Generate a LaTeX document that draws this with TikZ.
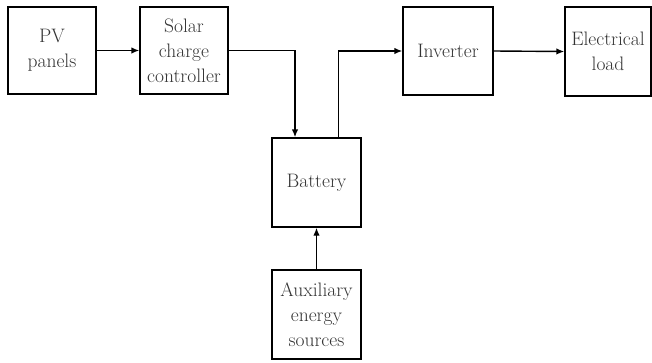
\documentclass[tikz,border=0pt]{standalone}
\usetikzlibrary{arrows.meta}
\begin{document}
\begin{tikzpicture}[x=1pt,y=-1pt,
  blk/.style={draw,line width=1.4pt,minimum width=88pt,minimum height=87pt,inner sep=0pt,align=center,font=\rmfamily\fontsize{19.5}{25}\selectfont,text=black!80},
  arr/.style={line width=1.4pt,-{Latex[length=8pt,width=6.5pt]}}]
\useasboundingbox (0,0) rectangle (652,362);
\node[blk] (pv) at (52,50.5) {PV\\panels};
\node[blk] (scc) at (184,50.5) {Solar\\charge\\controller};
\node[blk,minimum width=90pt,minimum height=88pt] (inv) at (448,51) {Inverter};
\node[blk,minimum width=86pt,minimum height=89pt] (load) at (608,51.5) {Electrical\\load};
\node[blk,minimum width=89pt,minimum height=89pt] (bat) at (316.5,182.5) {Battery};
\node[blk,minimum width=89pt,minimum height=89pt] (aux) at (316.5,314.5) {Auxiliary\\energy\\sources};
\draw[arr] (pv.east) -- (scc.west);
\draw[arr] (scc.east) -| ([xshift=-21.5pt]bat.north);
\draw[arr] ([xshift=22pt]bat.north) |- (inv.west);
\draw[arr] (inv.east) -- (load.west);
\draw[arr] (aux.north) -- (bat.south);
\end{tikzpicture}
\end{document}
